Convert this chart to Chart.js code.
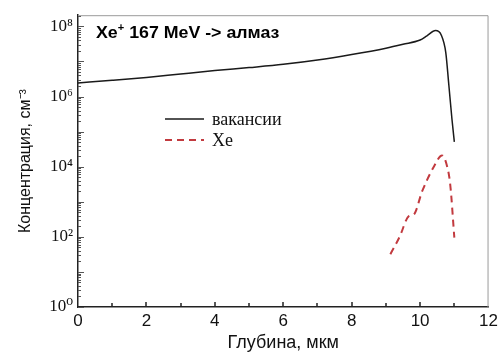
<!DOCTYPE html>
<html>
<head>
<meta charset="utf-8">
<script src="https://cdn.jsdelivr.net/npm/chart.js@4"></script>
<style>
  html, body { margin: 0; padding: 0; background: #fff; }
  #wrap { width: 502px; height: 356px; }
</style>
</head>
<body>
<div id="wrap"><canvas id="c" width="502" height="356"></canvas></div>
<script>
// vacancies profile (depth in um, concentration in cm^-3)
const vacDepth = [0, 1, 2, 3, 4, 5, 6, 7, 8, 9, 9.5, 10, 10.2, 10.45, 10.62, 10.75, 10.84, 10.93, 11.0];
const vacConc = [2.45e6, 2.9e6, 3.5e6, 4.4e6, 5.5e6, 6.7e6, 8.3e6, 1.1e7, 1.58e7, 2.4e7, 3.1e7, 4.1e7, 5.4e7, 7.6e7, 5.6e7, 1.8e7, 2.1e6, 2.3e5, 5.1e4];

// implanted Xe profile
const xeDepth = [9.13, 9.4, 9.67, 9.82, 10.06, 10.4, 10.64, 10.78, 10.88, 11.0];
const xeConc = [32, 100, 390, 440, 2000, 1.0e4, 2.1e4, 1.1e4, 3100, 95];

const xTicks = [0, 2, 4, 6, 8, 10, 12];
const yTicks = [1, 1e2, 1e4, 1e6, 1e8];
const yTickLabels = ['10\u2070', '10\u00B2', '10\u2074', '10\u2076', '10\u2078'];

const seriesNames = ['вакансии', 'Xe'];
const titleText = 'Xe';
const titleSup = '+';
const titleRest = ' 167 MeV -> алмаз';

const toPoints = (xs, ys) => xs.map((x, i) => ({ x: x, y: ys[i] }));

// inward tick marks, gray frame, legend and title
const decorations = {
  id: 'decorations',
  afterDraw(chart) {
    const ctx = chart.ctx;
    const area = chart.chartArea;
    const xs = chart.scales.x;
    const ys = chart.scales.y;
    ctx.save();

    // frame on top / right
    ctx.strokeStyle = '#9a9a9a';
    ctx.lineWidth = 1;
    ctx.beginPath();
    ctx.moveTo(area.left, area.top + 0.5);
    ctx.lineTo(area.right - 0.5, area.top + 0.5);
    ctx.lineTo(area.right - 0.5, area.bottom);
    ctx.stroke();

    // y ticks
    ctx.strokeStyle = '#555';
    ctx.beginPath();
    for (let d = 0; d <= 8; d++) {
      for (let k = 1; k <= 9; k++) {
        const v = k * Math.pow(10, d);
        if (v > ys.max) break;
        const py = Math.round(ys.getPixelForValue(v)) + 0.5;
        const len = k === 1 ? 6 : 3;
        ctx.moveTo(area.left, py);
        ctx.lineTo(area.left + len, py);
      }
    }
    ctx.stroke();

    // x ticks
    ctx.strokeStyle = '#222';
    ctx.lineWidth = 1.5;
    ctx.beginPath();
    for (let t = 1; t < 12; t++) {
      const px = Math.round(xs.getPixelForValue(t));
      const len = t % 2 === 0 ? 5 : 4;
      ctx.moveTo(px, area.bottom);
      ctx.lineTo(px, area.bottom - len);
    }
    ctx.stroke();

    // legend
    const ds = chart.data.datasets;
    const rows = [119, 140];
    ctx.font = '18px "Liberation Serif", "DejaVu Serif", serif';
    ctx.textBaseline = 'middle';
    ctx.textAlign = 'left';
    ds.forEach((d, i) => {
      ctx.strokeStyle = d.borderColor;
      ctx.lineWidth = d.borderWidth;
      ctx.setLineDash(d.borderDash || []);
      ctx.beginPath();
      ctx.moveTo(165, rows[i]);
      ctx.lineTo(204, rows[i]);
      ctx.stroke();
      ctx.setLineDash([]);
      ctx.fillStyle = '#111';
      ctx.fillText(d.label, 212, rows[i] + 1);
    });

    // title (slightly stretched, like the original)
    ctx.fillStyle = '#000';
    ctx.textBaseline = 'alphabetic';
    ctx.translate(96, 37.5);
    ctx.scale(1.11, 1);
    let tx = 0;
    ctx.font = 'bold 16px "Liberation Sans", Arial, sans-serif';
    ctx.fillText(titleText, tx, 0);
    tx += ctx.measureText(titleText).width;
    ctx.font = 'bold 10px "Liberation Sans", Arial, sans-serif';
    ctx.fillText(titleSup, tx, -7);
    tx += ctx.measureText(titleSup).width;
    ctx.font = 'bold 16px "Liberation Sans", Arial, sans-serif';
    ctx.fillText(titleRest, tx, 0);

    ctx.restore();
  }
};

new Chart(document.getElementById('c'), {
  type: 'line',
  data: {
    datasets: [
      {
        label: seriesNames[0],
        data: toPoints(vacDepth, vacConc),
        borderColor: '#1a1a1a',
        borderWidth: 1.5,
        pointRadius: 0,
        cubicInterpolationMode: 'monotone',
        fill: false
      },
      {
        label: seriesNames[1],
        data: toPoints(xeDepth, xeConc),
        borderColor: '#c23a3f',
        borderWidth: 2,
        borderDash: [7, 5],
        pointRadius: 0,
        cubicInterpolationMode: 'monotone',
        fill: false
      }
    ]
  },
  options: {
    responsive: false,
    animation: false,
    layout: { padding: { left: 8, right: 12, top: 12, bottom: 2 } },
    plugins: {
      legend: { display: false },
      tooltip: { enabled: false }
    },
    scales: {
      x: {
        type: 'linear',
        min: 0,
        max: 12,
        afterBuildTicks: (scale) => { scale.ticks = xTicks.map(v => ({ value: v })); },
        afterFit: (scale) => { scale.height = 47; },
        grid: { display: false, drawTicks: false },
        border: { display: true, color: '#222', width: 1.5 },
        ticks: {
          color: '#111',
          padding: 4,
          maxRotation: 0,
          font: { family: '"Liberation Sans", Arial, sans-serif', size: 17 }
        },
        title: {
          display: true,
          text: 'Глубина, мкм',
          color: '#111',
          padding: { top: 2, bottom: 0 },
          font: { family: '"Liberation Sans", Arial, sans-serif', size: 18 }
        }
      },
      y: {
        type: 'logarithmic',
        min: 1,
        max: 2.09e8,
        afterBuildTicks: (scale) => { scale.ticks = yTicks.map(v => ({ value: v })); },
        afterFit: (scale) => { scale.width = 70; },
        grid: { display: false, drawTicks: false },
        border: { display: true, color: '#222', width: 1.5 },
        ticks: {
          color: '#111',
          padding: 5,
          callback: (v) => yTickLabels[yTicks.indexOf(v)],
          font: { family: '"Liberation Serif", "DejaVu Serif", serif', size: 17 }
        },
        title: {
          display: true,
          text: 'Концентрация, см\u207B\u00B3',
          color: '#111',
          padding: { top: 8, bottom: 0 },
          font: { family: '"Liberation Sans", Arial, sans-serif', size: 16 }
        }
      }
    }
  },
  plugins: [decorations]
});
</script>
</body>
</html>
